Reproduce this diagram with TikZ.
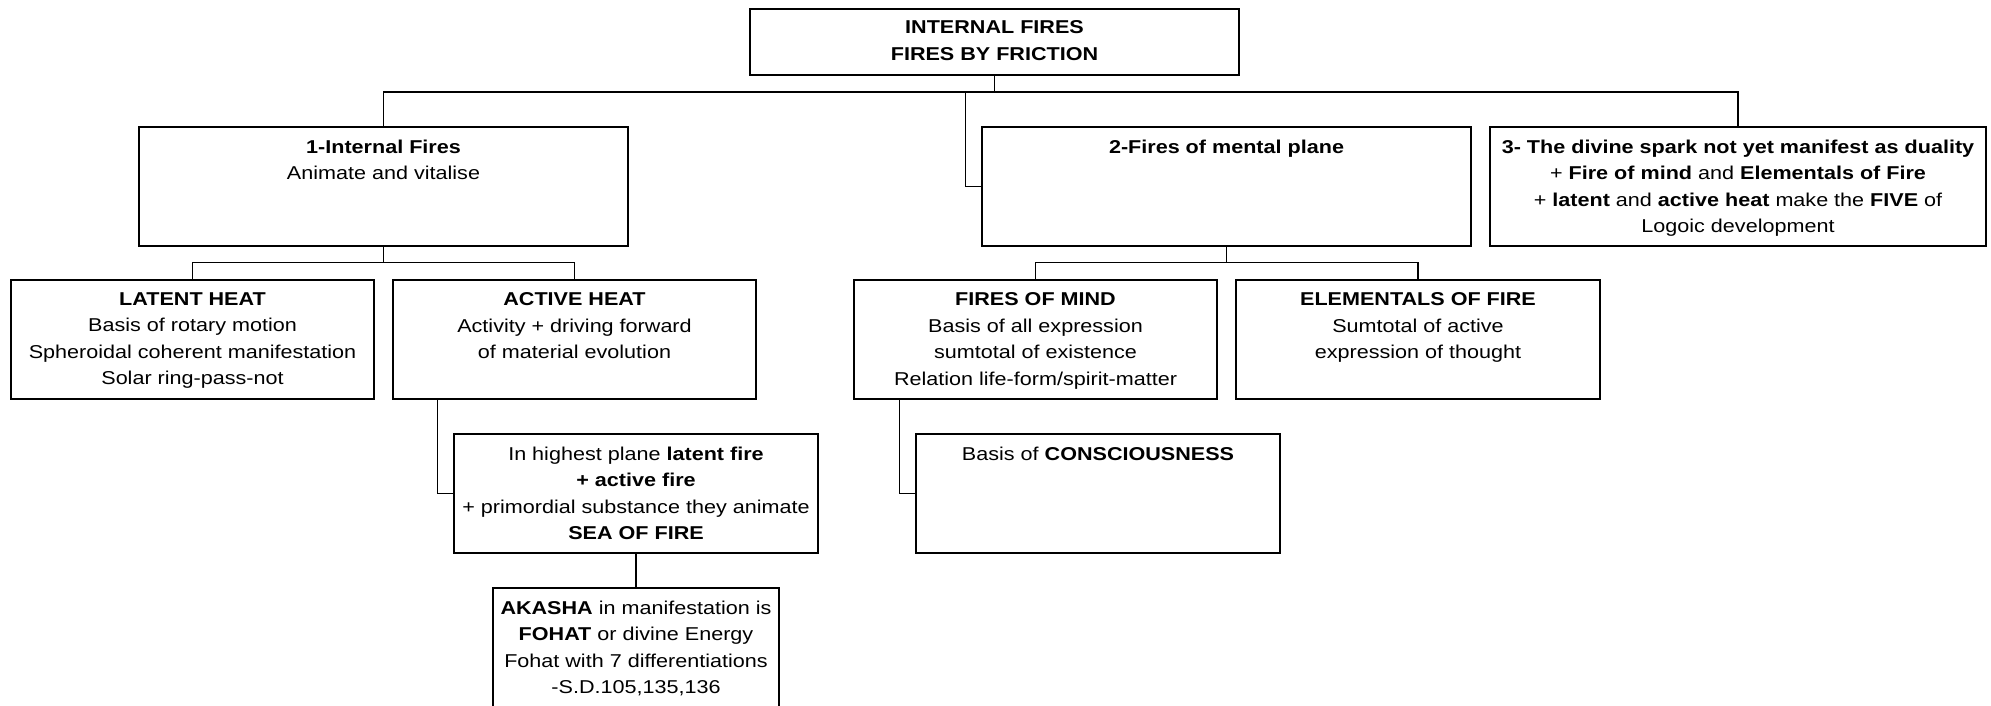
\documentclass[tikz,border=0pt]{standalone}
\usepackage{fontspec}
\setmainfont{Liberation Sans}[FakeStretch=1.16]
\begin{document}
\begin{tikzpicture}[x=1pt,y=-1pt,
  box/.style={draw=black, line width=1.3pt, fill=white, inner sep=0pt, minimum height=119pt},
  label/.style={anchor=north, inner sep=0pt, align=center, yshift=-13pt,
    font=\fontsize{18.6}{26.5}\selectfont},
  conn/.style={draw=black, line width=1.2pt}]
\useasboundingbox (0,0) rectangle (1991,705);
\clip (0,0) rectangle (1991,705);
% boxes
\node[box, minimum width=489pt, minimum height=66pt] (top) at (994.5,42) {};
\node[box, minimum width=489pt] (b1) at (383.5,186.5) {};
\node[box, minimum width=489pt] (b2) at (1226.5,186.5) {};
\node[box, minimum width=496pt] (b3) at (1738,186.5) {};
\node[box, minimum width=363pt] (latent) at (192.5,339.5) {};
\node[box, minimum width=363pt] (active) at (574.5,339.5) {};
\node[box, minimum width=364pt] (sea) at (636,493.5) {};
\node[box, minimum width=286pt] (akasha) at (636,647.5) {};
\node[box, minimum width=363pt] (mind) at (1035.5,339.5) {};
\node[box, minimum width=364pt] (elem) at (1418,339.5) {};
\node[box, minimum width=364pt] (cons) at (1098,493.5) {};
% texts
\node[label, yshift=1.5pt, font=\fontsize{18.6}{27.8}\selectfont] (ttop) at (top.north) {\textbf{INTERNAL FIRES}\\\textbf{FIRES BY FRICTION}};
\node[label] (tb1) at (b1.north) {\textbf{1-Internal Fires}\\Animate and vitalise};
\node[label] (tb2) at (b2.north) {\textbf{2-Fires of mental plane}};
\node[label] (tb3) at (b3.north) {\textbf{3- The divine spark not yet manifest as duality}\\+ \textbf{Fire of mind} and \textbf{Elementals of Fire}\\+ \textbf{latent} and \textbf{active heat} make the \textbf{FIVE} of\\Logoic development};
\node[label] (tlatent) at (latent.north) {\textbf{LATENT HEAT}\\Basis of rotary motion\\Spheroidal coherent manifestation\\Solar ring-pass-not};
\node[label] (tactive) at (active.north) {\textbf{ACTIVE HEAT}\\Activity + driving forward\\of material evolution};
\node[label] (tsea) at (sea.north) {In highest plane \textbf{latent fire}\\\textbf{+ active fire}\\+ primordial substance they animate\\\textbf{SEA OF FIRE}};
\node[label] (takasha) at (akasha.north) {\textbf{AKASHA} in manifestation is\\\textbf{FOHAT} or divine Energy\\Fohat with 7 differentiations\\-S.D.105,135,136};
\node[label] (tmind) at (mind.north) {\textbf{FIRES OF MIND}\\Basis of all expression\\sumtotal of existence\\Relation life-form/spirit-matter};
\node[label] (telem) at (elem.north) {\textbf{ELEMENTALS OF FIRE}\\Sumtotal of active\\expression of thought};
\node[label] (tcons) at (cons.north) {Basis of \textbf{CONSCIOUSNESS}};
% connectors
\coordinate (j0) at (994.5,92);
\coordinate (j2) at (965.6,92);
\coordinate (j1) at (383.5,262.7);
\coordinate (j3) at (1226.5,262.7);
\coordinate (ja) at (437.5,399);
\coordinate (jm) at (899.5,399);
\path[conn] (top.south) -- (j0);
\path[conn] (b1.north) -- (b1.north |- j0) -- (b3.north |- j0) -- (b3.north);
\path[conn] (j2) |- (b2.west);
\path[conn] (b1.south) -- (j1);
\path[conn] (latent.north) -- (latent.north |- j1) -- (active.north |- j1) -- (active.north);
\path[conn] (b2.south) -- (j3);
\path[conn] (mind.north) -- (mind.north |- j3) -- (elem.north |- j3) -- (elem.north);
\path[conn] (ja) |- (sea.west);
\path[conn] (sea.south) -- (akasha.north);
\path[conn] (jm) |- (cons.west);
\end{tikzpicture}
\end{document}
